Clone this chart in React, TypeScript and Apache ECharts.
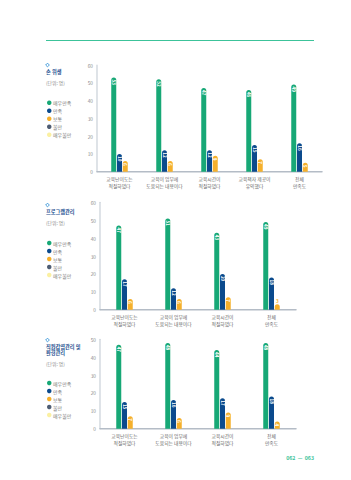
import React, { useEffect, useRef } from "react";
import * as echarts from "echarts";

const seriesNames = ["매우만족", "만족", "보통", "불만", "매우불만"];
const seriesColors = ["#17a876", "#0b4a8d", "#f5b02c", "#4f5d73", "#fbf0a2"];

const titles1 = ["손 위생"];
const titles2 = ["프로그램관리"];
const titles3 = ["직원감염관리 및", "환경관리"];

const cats1 = ["교육난이도는\n적절하였다", "교육이 업무에\n도움되는 내용이다", "교육시간이\n적절하였다", "교육책자 제공이\n유익했다", "전체\n만족도"];
const cats2 = ["교육난이도는\n적절하였다", "교육이 업무에\n도움되는 내용이다", "교육시간이\n적절하였다", "전체\n만족도"];
const cats3 = ["교육난이도는\n적절하였다", "교육이 업무에\n도움되는 내용이다", "교육시간이\n적절하였다", "전체\n만족도"];

const c1VerySat = [53, 52, 47, 46, 49];
const c1Sat = [10, 12, 12, 15, 16];
const c1Normal = [6, 6, 9, 7, 5];

const c2VerySat = [47, 51, 43, 49];
const c2Sat = [17, 12, 20, 18];
const c2Normal = [6, 6, 7, 3];

const c3VerySat = [47, 48, 44, 48];
const c3Sat = [15, 16, 17, 18];
const c3Normal = [7, 6, 9, 4];

const yMax = [60, 60, 50];

const FONT = "'Noto Sans CJK KR', 'Noto Sans', sans-serif";
const S = 2; // render at 2x then scale down (browser minimum font size)

export default function App() {
  const ref = useRef<HTMLDivElement>(null);
  useEffect(() => {
    if (!ref.current) return;
    const chart = echarts.init(ref.current, null, { renderer: "svg" });

    const grids = [
      { left: 97 * S, top: 65 * S, width: 225 * S, height: 106.7 * S },
      { left: 100 * S, top: 202.3 * S, width: 196 * S, height: 107.4 * S },
      { left: 100 * S, top: 339.3 * S, width: 196 * S, height: 89.4 * S },
    ];
    const catsAll = [cats1, cats2, cats3];
    const dataAll = [
      [c1VerySat, c1Sat, c1Normal],
      [c2VerySat, c2Sat, c2Normal],
      [c3VerySat, c3Sat, c3Normal],
    ];

    const insideLabel = {
      show: true,
      position: "insideTop",
      rotate: -90,
      align: "left",
      verticalAlign: "middle",
      distance: 2 * S,
      color: "#fff",
      fontSize: 4.6 * S,
      fontWeight: "bold",
      fontFamily: FONT,
    };

    const series: any[] = [];
    dataAll.forEach((group, gi) => {
      group.forEach((vals, si) => {
        series.push({
          type: "bar",
          name: seriesNames[si],
          xAxisIndex: gi,
          yAxisIndex: gi,
          barWidth: 5 * S,
          barGap: "15%",
          itemStyle: { color: seriesColors[si], borderRadius: [2.5 * S, 2.5 * S, 0, 0] },
          label: insideLabel,
          data: vals.map((v) =>
            v < 4
              ? {
                  value: v,
                  label: {
                    show: true,
                    position: "top",
                    rotate: 0,
                    align: "center",
                    verticalAlign: "bottom",
                    distance: 1 * S,
                    color: seriesColors[si],
                    fontSize: 4.6 * S,
                    fontWeight: "bold",
                  },
                }
              : v
          ),
        });
      });
    });
    [3, 4].forEach((si) => {
      series.push({
        type: "line",
        name: seriesNames[si],
        xAxisIndex: 0,
        yAxisIndex: 0,
        itemStyle: { color: seriesColors[si] },
        data: [],
      });
    });

    const legendTops = [97.8, 238, 378];
    const legends = legendTops.map((t) => ({
      orient: "vertical",
      left: 44.5 * S,
      top: t * S,
      icon: "circle",
      itemWidth: 4.5 * S,
      itemHeight: 4.5 * S,
      itemGap: 3 * S,
      selectedMode: false,
      data: seriesNames,
      textStyle: { fontSize: 5 * S, color: "#7a7a7a", fontFamily: FONT, lineHeight: 5 * S, padding: [0, 0, 0, -1 * S] },
    }));

    const green = "#3cc39a";
    const titleColor = "#1d4f8f";
    const headerTops = [65, 205, 340];
    const titleLines = [titles1, titles2, titles3];
    const graphics: any[] = [
      { type: "line", shape: { x1: 46 * S, y1: 40.5 * S, x2: 314 * S, y2: 40.5 * S }, style: { stroke: green, lineWidth: 1 * S } },
      { type: "text", x: 314 * S, y: 457.7 * S, style: { text: "062  —  063", fill: green, fontSize: 5.2 * S, fontFamily: FONT, align: "right", verticalAlign: "middle", fontWeight: "bold" } },
    ];
    headerTops.forEach((ht, i) => {
      graphics.push({
        type: "rect",
        x: 47.5 * S,
        y: ht * S,
        rotation: Math.PI / 4,
        shape: { x: -1.3 * S, y: -1.3 * S, width: 2.6 * S, height: 2.6 * S },
        style: { fill: "none", stroke: "#2a8fd6", lineWidth: 0.8 * S },
      });
      titleLines[i].forEach((ln, li) => {
        graphics.push({
          type: "text",
          x: 46 * S,
          y: (ht + 6 + li * 6.3) * S,
          style: { text: ln, fill: titleColor, fontSize: 5.2 * S, fontWeight: "bold", fontFamily: FONT, verticalAlign: "middle" },
        });
      });
      const unitY = ht + 6 + (titleLines[i].length - 1) * 6.3 + 11.2;
      graphics.push({
        type: "text",
        x: 46 * S,
        y: unitY * S,
        style: { text: "(단위: 명)", fill: "#8a8a8a", fontSize: 4.8 * S, fontFamily: FONT, verticalAlign: "middle" },
      });
    });

    chart.setOption({
      animation: false,
      grid: grids,
      legend: legends,
      xAxis: catsAll.map((c, i) => ({
        type: "category",
        gridIndex: i,
        data: c,
        axisLine: { show: true, lineStyle: { color: "#b4bcc6", width: 1.5 * S } },
        axisTick: { show: false },
        axisLabel: { interval: 0, fontSize: 4.8 * S, color: "#666", lineHeight: 6.8 * S, margin: 3.5 * S, fontFamily: FONT },
      })),
      yAxis: yMax.map((m, i) => ({
        type: "value",
        gridIndex: i,
        min: 0,
        max: m,
        interval: 10,
        axisLine: { show: true, lineStyle: { color: "#c9d0d8", width: 1.2 * S } },
        axisTick: { show: false },
        splitLine: { show: false },
        axisLabel: { fontSize: 4.8 * S, color: "#8a8a8a", margin: 4 * S, fontFamily: FONT },
      })),
      series,
      graphic: graphics,
    });
    return () => chart.dispose();
  }, []);
  return (
    <div style={{ position: "fixed", left: 0, top: 0, width: 351, height: 480, overflow: "hidden", background: "#fff" }}>
      <div
        ref={ref}
        style={{ width: 351 * S, height: 480 * S, transform: `scale(${1 / S})`, transformOrigin: "0 0" }}
      />
    </div>
  );
}
